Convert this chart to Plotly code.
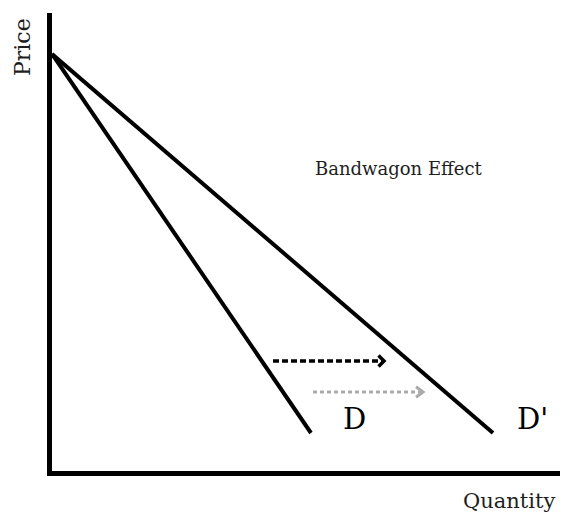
import plotly.graph_objects as go

# Data (quantity, price) in chart units
demand_D_q = [0.0, 25.9]
demand_D_p = [41.7, 3.8]
demand_D2_q = [0.0, 44.1]
demand_D2_p = [41.7, 3.8]

shift_black_q = [22.1, 33.2]
shift_black_p = [11.0, 11.0]
shift_gray_q = [26.1, 37.1]
shift_gray_p = [7.9, 7.9]

labels = ["D", "D'"]
label_q = [30.25, 48.0]
label_p = [5.25, 5.25]

x_range = [0, 51.6]
y_range = [0, 45.8]

FONT = "DejaVu Serif"
TXT = "#1e1e1e"

fig = go.Figure()

fig.add_trace(go.Scatter(x=demand_D_q, y=demand_D_p, mode="lines",
                         line=dict(color="black", width=4), hoverinfo="skip"))
fig.add_trace(go.Scatter(x=demand_D2_q, y=demand_D2_p, mode="lines",
                         line=dict(color="black", width=4), hoverinfo="skip"))

def arrow(qs, ps, color, width, dash, hw, hh):
    fig.add_trace(go.Scatter(x=qs, y=ps, mode="lines",
                             line=dict(color=color, width=width, dash=dash),
                             hoverinfo="skip"))
    # open chevron head
    hx, hy = qs[1], ps[1]
    fig.add_trace(go.Scatter(x=[hx - hw, hx, hx - hw], y=[hy + hh, hy, hy - hh],
                             mode="lines", line=dict(color=color, width=width),
                             hoverinfo="skip"))

arrow(shift_black_q, shift_black_p, "black", 3.5, "6px,3px", 0.55, 0.55)
arrow(shift_gray_q, shift_gray_p, "#ababab", 3, "4px,3px", 0.7, 0.53)

def px(q):
    return q / x_range[1]

def py(p):
    return p / y_range[1]

def note(q, p, text, size, color, angle=0):
    return dict(x=px(q), y=py(p), xref="paper", yref="paper", text=text,
                showarrow=False, xanchor="center", yanchor="middle",
                textangle=angle, font=dict(family=FONT, size=size, color=color))

annotations = []
for t, q, p in zip(labels, label_q, label_p):
    annotations.append(note(q, p, t, 29, "black"))
annotations.append(note(34.65, 30.25, "Bandwagon Effect", 18, TXT))
annotations.append(note(-2.95, 42.45, "Price", 22, TXT, -90))
annotations.append(note(45.7, -3.0, "Quantity", 21, TXT))

fig.update_layout(
    width=560, height=507,
    margin=dict(l=44, r=0, t=5, b=44),
    paper_bgcolor="white", plot_bgcolor="white",
    showlegend=False,
    annotations=annotations,
    xaxis=dict(range=x_range, showgrid=False, zeroline=False, showticklabels=False,
               ticks="", showline=True, linecolor="black", linewidth=4.5, fixedrange=True),
    yaxis=dict(range=y_range, showgrid=False, zeroline=False, showticklabels=False,
               ticks="", showline=True, linecolor="black", linewidth=4.5, fixedrange=True),
)

fig.write_html("out.html")
